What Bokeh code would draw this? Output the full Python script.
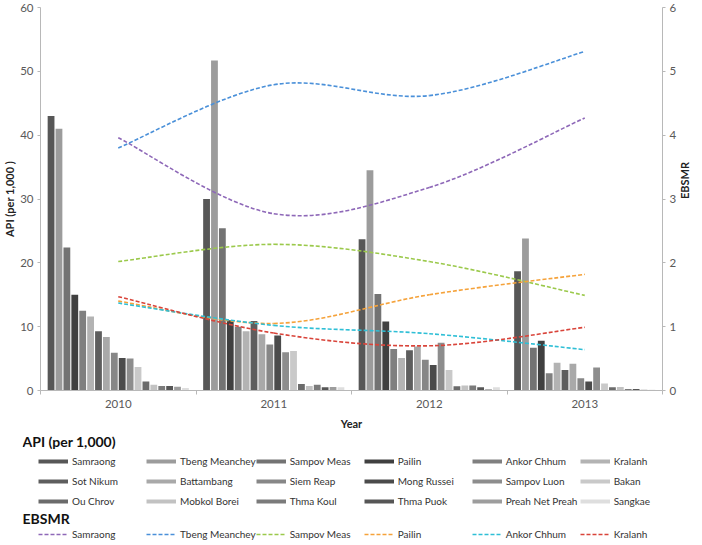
import numpy as np
from bokeh.plotting import figure
from bokeh.layouts import column
from bokeh.models import Range1d, LinearAxis, FixedTicker, Legend, LegendItem, Label
from bokeh.embed import file_html
from bokeh.resources import INLINE

years = ["2010", "2011", "2012", "2013"]
districts = ["Samraong", "Tbeng Meanchey", "Sampov Meas", "Pailin", "Ankor Chhum", "Kralanh",
             "Sot Nikum", "Battambang", "Siem Reap", "Mong Russei", "Sampov Luon", "Bakan",
             "Ou Chrov", "Mobkol Borei", "Thma Koul", "Thma Puok", "Preah Net Preah", "Sangkae"]

# API (per 1,000) by district, one list per year (same order as districts)
api_2010 = [43.0, 41.0, 22.4, 15.0, 12.5, 11.6, 9.3, 8.4, 5.9, 5.1, 5.0, 3.7, 1.4, 0.9, 0.7, 0.7, 0.6, 0.4]
api_2011 = [30.0, 51.7, 25.4, 11.0, 10.0, 9.3, 10.9, 8.8, 7.2, 8.6, 6.0, 6.2, 1.0, 0.7, 0.9, 0.5, 0.55, 0.5]
api_2012 = [23.7, 34.5, 15.1, 10.8, 6.5, 5.1, 6.3, 6.9, 4.8, 4.0, 7.5, 3.2, 0.66, 0.77, 0.77, 0.5, 0.2, 0.5]
api_2013 = [18.7, 23.8, 6.7, 7.8, 2.7, 4.35, 3.2, 4.2, 1.9, 1.4, 3.6, 1.1, 0.5, 0.55, 0.25, 0.25, 0.1, 0.1]

# EBSMR by district (2010..2013)
ebsmr_names = ["Samraong", "Tbeng Meanchey", "Sampov Meas", "Pailin", "Ankor Chhum", "Kralanh"]
ebsmr_samraong = [3.96, 2.77, 3.18, 4.27]
ebsmr_tbeng = [3.80, 4.79, 4.62, 5.31]
ebsmr_sampov_meas = [2.02, 2.29, 2.02, 1.49]
ebsmr_pailin = [1.40, 1.05, 1.50, 1.82]
ebsmr_ankor = [1.37, 1.02, 0.89, 0.64]
ebsmr_kralanh = [1.47, 0.90, 0.70, 0.99]

y_left_label = "API (per 1,000 )"
y_right_label = "EBSMR"
x_label = "Year"
legend1_title = "API (per 1,000)"
legend2_title = "EBSMR"

bar_colors = ["#575757", "#9c9c9c", "#737373", "#404040", "#808080", "#b3b3b3",
              "#5e5e5e", "#a9a9a9", "#878787", "#4b4b4b", "#8d8d8d", "#c9c9c9",
              "#6b6b6b", "#c2c2c2", "#7b7b7b", "#565656", "#9d9d9d", "#dedede"]
line_colors = ["#8e68b8", "#4a90d9", "#9bc94b", "#f5a23a", "#2fbfd6", "#d9443a"]

FONT = "Lato"
TXT = "#595959"
W = 700

p = figure(width=W, height=432, x_range=Range1d(0, 4), y_range=Range1d(0, 60),
           output_backend="svg", toolbar_location=None,
           min_border_top=7, min_border_left=0, min_border_right=0, min_border_bottom=0)
p.extra_y_ranges = {"ebsmr": Range1d(0, 6)}
p.outline_line_color = None
p.xgrid.visible = False
p.ygrid.visible = False
p.frame_align = False

api_by_year = [api_2010, api_2011, api_2012, api_2013]
n = len(districts)
slot = 0.915 / n
centers = np.arange(len(years)) + 0.5

for i, name in enumerate(districts):
    xs = centers + (i - (n - 1) / 2) * slot
    tops = [api_by_year[k][i] for k in range(len(years))]
    p.vbar(x=xs, top=tops, width=slot * 0.86, fill_color=bar_colors[i], line_color=None)

ebsmr_series = [ebsmr_samraong, ebsmr_tbeng, ebsmr_sampov_meas, ebsmr_pailin, ebsmr_ankor, ebsmr_kralanh]
for vals, col in zip(ebsmr_series, line_colors):
    pts = list(zip(centers, vals))
    x0, y0, x1, y1, cx0, cy0, cx1, cy1 = ([] for _ in range(8))
    m = len(pts)
    for k in range(m - 1):
        P0 = pts[k - 1] if k > 0 else pts[k]
        P1 = pts[k]
        P2 = pts[k + 1]
        P3 = pts[k + 2] if k + 2 < m else pts[k + 1]
        x0.append(P1[0]); y0.append(P1[1]); x1.append(P2[0]); y1.append(P2[1])
        cx0.append(P1[0] + (P2[0] - P0[0]) / 6); cy0.append(P1[1] + (P2[1] - P0[1]) / 6)
        cx1.append(P2[0] - (P3[0] - P1[0]) / 6); cy1.append(P2[1] - (P3[1] - P1[1]) / 6)
    p.bezier(x0=x0, y0=y0, x1=x1, y1=y1, cx0=cx0, cy0=cy0, cx1=cx1, cy1=cy1,
             line_color=col, line_width=1.6, line_dash="4 2", y_range_name="ebsmr")

right = LinearAxis(y_range_name="ebsmr", axis_label=y_right_label)
p.add_layout(right, "right")
if "axis_label_orientation" in right.properties():
    right.axis_label_orientation = np.pi / 2

p.xaxis.ticker = FixedTicker(ticks=list(centers), minor_ticks=[0, 1, 2, 3, 4])
p.xaxis.major_label_overrides = {float(c): y for c, y in zip(centers, years)}
p.xaxis.axis_label = x_label

p.yaxis[0].ticker = FixedTicker(ticks=[0, 10, 20, 30, 40, 50, 60])
p.yaxis[0].axis_label = y_left_label
right.ticker = FixedTicker(ticks=[0, 1, 2, 3, 4, 5, 6])

for ax in p.axis:
    ax.axis_line_color = "#b8b8b8"
    ax.major_tick_line_color = "#b8b8b8"
    ax.minor_tick_line_color = None
    ax.major_tick_out = 3
    ax.major_tick_in = 0
    ax.major_label_text_font = FONT
    ax.major_label_text_font_size = "11.5px"
    ax.major_label_text_color = TXT
    ax.major_label_standoff = 4
    ax.axis_label_text_font = FONT
    ax.axis_label_text_font_size = "11px"
    ax.axis_label_text_font_style = "bold"
    ax.axis_label_text_color = "#222222"
    ax.axis_label_standoff = 4
p.xaxis.major_tick_line_color = None
p.xaxis.minor_tick_line_color = "#b8b8b8"
p.xaxis.minor_tick_out = 4
p.xaxis.minor_tick_in = 0
p.xaxis.major_label_standoff = 5
p.xaxis.axis_label_standoff = 6
p.yaxis[0].axis_label_standoff = 1
right.axis_label_standoff = 5

# ---- legend panel (separate figure below the chart) ----
LH = 112
lf = figure(width=W, height=LH, x_range=Range1d(0, W - 22), y_range=Range1d(0, LH),
            output_backend="svg", toolbar_location=None,
            x_axis_location=None, y_axis_location=None,
            min_border_left=22, min_border_right=0, min_border_top=0, min_border_bottom=0)
lf.outline_line_color = None
lf.xgrid.visible = False
lf.ygrid.visible = False
lf.frame_align = False

bar_keys = [lf.line(x=[np.nan], y=[np.nan], line_color=c, line_width=4) for c in bar_colors]
line_keys = [lf.line(x=[np.nan], y=[np.nan], line_color=c, line_width=1.6, line_dash="4 2")
             for c in line_colors]

def style_legend(leg):
    leg.orientation = "horizontal"
    leg.ncols = 6
    leg.glyph_width = 30
    leg.glyph_height = 20
    leg.label_height = 20
    leg.label_width = 74
    leg.label_standoff = 4
    leg.spacing = 0
    leg.label_text_font = FONT
    leg.label_text_font_size = "10px"
    leg.label_text_color = "#333333"
    leg.border_line_color = None
    leg.background_fill_alpha = 0
    leg.padding = 0
    leg.margin = 0

leg1 = Legend(items=[LegendItem(label=d, renderers=[r]) for d, r in zip(districts, bar_keys)])
style_legend(leg1)
leg1.location = (16, 33)
lf.add_layout(leg1, "center")

leg2 = Legend(items=[LegendItem(label=d, renderers=[r]) for d, r in zip(ebsmr_names, line_keys)])
style_legend(leg2)
leg2.location = (16, 0)
lf.add_layout(leg2, "center")

for txt, yy in [(legend1_title, LH - 9), (legend2_title, LH - 86)]:
    lf.add_layout(Label(x=0, y=yy, text=txt, text_baseline="middle", text_align="left",
                        text_font=FONT, text_font_size="14px", text_font_style="bold",
                        text_color="#111111"))

open("out.html", "w").write(file_html(column(p, lf), INLINE))
